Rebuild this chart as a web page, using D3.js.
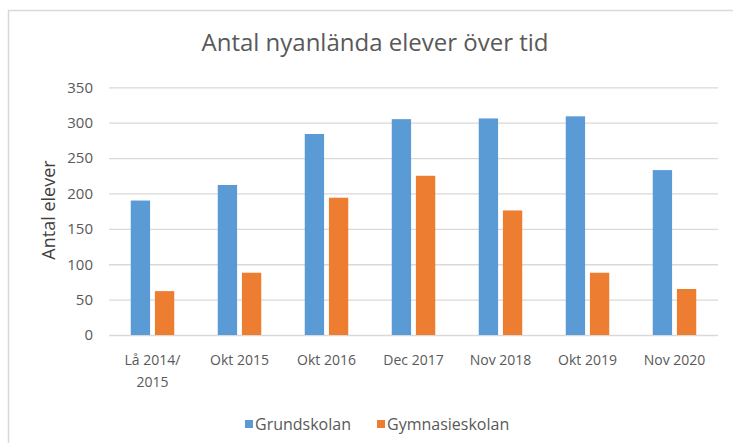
<!DOCTYPE html>
<meta charset="utf-8">
<style>
  body { margin: 0; background: #fff; }
  text { font-family: "Open Sans", "Noto Sans", sans-serif; fill: #595959; }
  .grid line { stroke: #d9d9d9; stroke-width: 1.3; }
  .grid path { display: none; }
</style>
<body>
<script src="https://d3js.org/d3.v7.min.js"></script>
<script>
// chart data
var categories = ["Lå 2014/\n2015", "Okt 2015", "Okt 2016", "Dec 2017", "Nov 2018", "Okt 2019", "Nov 2020"];
var seriesNames = ["Grundskolan", "Gymnasieskolan"];
var grundskolan = [190, 212, 284, 305, 306, 309, 233];
var gymnasieskolan = [62, 88, 194, 225, 176, 88, 65];
var yTicks = [0, 50, 100, 150, 200, 250, 300, 350];
var colors = ["#5b9bd5", "#ed7d31"];

var width = 733,
    height = 443;

var svg = d3.select("body").append("svg")
    .attr("width", width)
    .attr("height", height);

// chart frame
svg.append("rect")
    .attr("x", 8.5).attr("y", 10.5)
    .attr("width", 740).attr("height", 450)
    .attr("fill", "none")
    .attr("stroke", "#d9d9d9")
    .attr("stroke-width", 1.5);

var plotLeft = 109, plotRight = 718, plotTop = 87.3, plotBottom = 335;

var y = d3.scaleLinear().domain([0, 350]).range([plotBottom, plotTop]);
var x0 = d3.scaleBand().domain(d3.range(categories.length)).range([plotLeft, plotRight]).padding(0);
var x1 = d3.scaleBand().domain([0, 1])
    .range([x0.bandwidth() * 0.25, x0.bandwidth() * 0.75])
    .paddingInner(0.2);

// gridlines
svg.append("g")
    .attr("class", "grid")
    .attr("transform", "translate(" + plotLeft + ",0)")
    .call(d3.axisLeft(y).tickValues(yTicks).tickSize(-(plotRight - plotLeft)).tickFormat(""));

// y tick labels
svg.append("g")
    .attr("transform", "translate(" + (plotLeft - 16) + ",0)")
    .call(d3.axisLeft(y).tickValues(yTicks).tickSize(0))
    .call(function(g) { g.select(".domain").remove(); })
    .selectAll("text")
      .attr("x", 0)
      .style("font-family", "'Open Sans', sans-serif")
      .style("font-size", "15px")
      .style("fill", "#595959");

// bars
var rows = categories.map(function(c, i) { return [grundskolan[i], gymnasieskolan[i]]; });

var groups = svg.selectAll(".group")
    .data(rows)
  .enter().append("g")
    .attr("class", "group")
    .attr("transform", function(d, i) { return "translate(" + x0(i) + ",0)"; });

groups.selectAll("rect")
    .data(function(d) { return d; })
  .enter().append("rect")
    .attr("x", function(d, j) { return x1(j); })
    .attr("y", function(d) { return y(d); })
    .attr("width", x1.bandwidth())
    .attr("height", function(d) { return y(0) - y(d); })
    .attr("fill", function(d, j) { return colors[j]; });

// x labels
var xl = svg.selectAll(".xlabel")
    .data(categories)
  .enter().append("text")
    .attr("class", "xlabel")
    .attr("text-anchor", "middle")
    .attr("x", function(d, i) { return x0(i) + x0.bandwidth() / 2; })
    .attr("y", 365)
    .style("font-size", "14px");

xl.each(function(d) {
  var t = d3.select(this);
  d.split("\n").forEach(function(line, k) {
    t.append("tspan")
      .attr("x", t.attr("x"))
      .attr("dy", k ? 22 : 0)
      .text(line);
  });
});

// title
svg.append("text")
    .attr("x", 375)
    .attr("y", 51)
    .attr("text-anchor", "middle")
    .style("font-size", "24px")
    .style("fill", "#595959")
    .text("Antal nyanlända elever över tid");

// y axis title
svg.append("text")
    .attr("transform", "translate(55,210) rotate(-90)")
    .attr("text-anchor", "middle")
    .style("font-size", "18px")
    .style("fill", "#404040")
    .text("Antal elever");

// legend
var legendX = [245, 377];
var legend = svg.selectAll(".legend")
    .data(seriesNames)
  .enter().append("g")
    .attr("class", "legend")
    .attr("transform", function(d, i) { return "translate(" + legendX[i] + ",420)"; });

legend.append("rect")
    .attr("width", 8).attr("height", 8)
    .attr("fill", function(d, i) { return colors[i]; });

legend.append("text")
    .attr("x", 10)
    .attr("y", 10)
    .style("font-size", "16px")
    .text(function(d) { return d; });
</script>
